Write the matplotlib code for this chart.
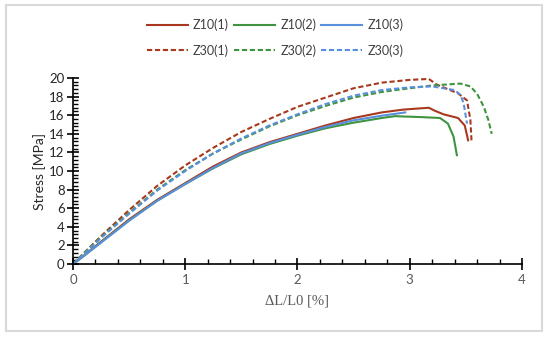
import numpy as np
import matplotlib
matplotlib.use('Agg')
import matplotlib.pyplot as plt
from matplotlib.patches import Rectangle
from matplotlib.ticker import MultipleLocator

plt.rcParams['font.family'] = ['Lato', 'DejaVu Sans']

# strain [%] and stress [MPa]
z10_1_x = [0, 0.1, 0.25, 0.5, 0.75, 1.0, 1.25, 1.5, 1.75, 2.0, 2.25, 2.5, 2.75, 2.94, 3.05, 3.17, 3.22, 3.3, 3.43, 3.49, 3.52]
z10_1_y = [0, 0.95, 2.4, 4.8, 6.9, 8.7, 10.5, 12.0, 13.1, 14.0, 14.9, 15.7, 16.3, 16.6, 16.7, 16.8, 16.5, 16.1, 15.7, 14.9, 13.3]

z10_2_x = [0, 0.1, 0.25, 0.5, 0.75, 1.0, 1.25, 1.5, 1.75, 2.0, 2.25, 2.5, 2.75, 2.87, 2.97, 3.1, 3.27, 3.34, 3.39, 3.42]
z10_2_y = [0, 0.9, 2.35, 4.7, 6.8, 8.6, 10.3, 11.8, 12.9, 13.8, 14.6, 15.2, 15.7, 15.9, 15.85, 15.8, 15.7, 15.1, 13.7, 11.7]

z10_3_x = [0, 0.1, 0.25, 0.5, 0.75, 1.0, 1.25, 1.5, 1.75, 2.0, 2.25, 2.5, 2.75, 2.96]
z10_3_y = [0, 0.9, 2.3, 4.65, 6.8, 8.6, 10.35, 11.9, 13.0, 13.9, 14.75, 15.45, 15.95, 16.3]

z30_1_x = [0, 0.1, 0.25, 0.5, 0.75, 1.0, 1.25, 1.5, 1.75, 2.0, 2.25, 2.5, 2.75, 3.0, 3.17, 3.24, 3.34, 3.43, 3.51, 3.54, 3.55]
z30_1_y = [0, 1.2, 3.0, 5.8, 8.4, 10.6, 12.5, 14.2, 15.6, 16.9, 17.9, 18.9, 19.5, 19.8, 19.9, 19.3, 18.8, 18.35, 17.6, 15.5, 13.3]

z30_2_x = [0, 0.1, 0.25, 0.5, 0.75, 1.0, 1.25, 1.5, 1.75, 2.0, 2.25, 2.5, 2.75, 3.0, 3.2, 3.45, 3.54, 3.6, 3.66, 3.7, 3.73]
z30_2_y = [0, 1.2, 2.9, 5.5, 8.0, 10.1, 11.9, 13.4, 14.8, 16.0, 17.0, 17.9, 18.5, 18.9, 19.2, 19.4, 19.1, 18.3, 16.9, 15.5, 14.0]

z30_3_x = [0, 0.1, 0.25, 0.5, 0.75, 1.0, 1.25, 1.5, 1.75, 2.0, 2.25, 2.5, 2.75, 3.0, 3.2, 3.4, 3.45, 3.48, 3.51]
z30_3_y = [0, 1.1, 2.8, 5.4, 7.9, 10.0, 11.9, 13.5, 14.9, 16.1, 17.2, 18.1, 18.7, 19.0, 19.1, 18.7, 18.2, 17.3, 15.1]

red = '#a8381e'
green = '#3f9440'
blue = '#5a8fdc'
dash = (0, (2.5, 1.3))

fig = plt.figure(figsize=(5.5, 3.37), dpi=100)
ax = fig.add_axes([0.1327, 0.2166, 0.8164, 0.5519])

# light grey frame round the whole chart
fig.patches.append(Rectangle((6 / 550, 6 / 337), 536 / 550, 326 / 337, transform=fig.transFigure,
                             fill=False, edgecolor='#d9d9d9', linewidth=1.5))

ax.plot(z10_1_x, z10_1_y, color=red, lw=1.5, label='Z10(1)')
ax.plot(z10_2_x, z10_2_y, color=green, lw=1.5, label='Z10(2)')
ax.plot(z10_3_x, z10_3_y, color=blue, lw=1.5, label='Z10(3)')
ax.plot(z30_1_x, z30_1_y, color=red, lw=1.5, ls=dash, label='Z30(1)')
ax.plot(z30_2_x, z30_2_y, color=green, lw=1.5, ls=dash, label='Z30(2)')
ax.plot(z30_3_x, z30_3_y, color=blue, lw=1.5, ls=dash, label='Z30(3)')

ax.set_xlim(0, 4)
ax.set_ylim(0, 20)
ax.xaxis.set_major_locator(MultipleLocator(1))
ax.xaxis.set_minor_locator(MultipleLocator(0.2))
ax.yaxis.set_major_locator(MultipleLocator(2))
ax.yaxis.set_minor_locator(MultipleLocator(0.4))

for s in ['top', 'right']:
    ax.spines[s].set_visible(False)
for s in ['left', 'bottom']:
    ax.spines[s].set_linewidth(1.2)

ax.tick_params(which='major', direction='inout', length=8, width=1.2, labelsize=9.5)
ax.tick_params(which='minor', direction='in', length=3.5, width=1)
ax.tick_params(axis='x', which='major', labelcolor='#595959', pad=3)
ax.tick_params(axis='y', which='major', labelcolor='#262626', pad=2)

ax.set_ylabel('Stress [MPa]', fontsize=10, color='#262626', labelpad=2)
ax.set_xlabel('ΔL/L0 [%]', fontsize=10.5, color='#595959', family='Liberation Serif', labelpad=6)

# legend fills column by column, so interleave to get Z10 on row 1 and Z30 on row 2
handles, labels = ax.get_legend_handles_labels()
order = [0, 3, 1, 4, 2, 5]
fig.legend([handles[i] for i in order], [labels[i] for i in order], ncol=3, loc='center',
           bbox_to_anchor=(0.5, 0.888), frameon=False, fontsize=9, handlelength=3.3,
           columnspacing=0.4, handletextpad=0.4, labelspacing=1.05, labelcolor='#404040')

fig.savefig('out.png', dpi=100)
